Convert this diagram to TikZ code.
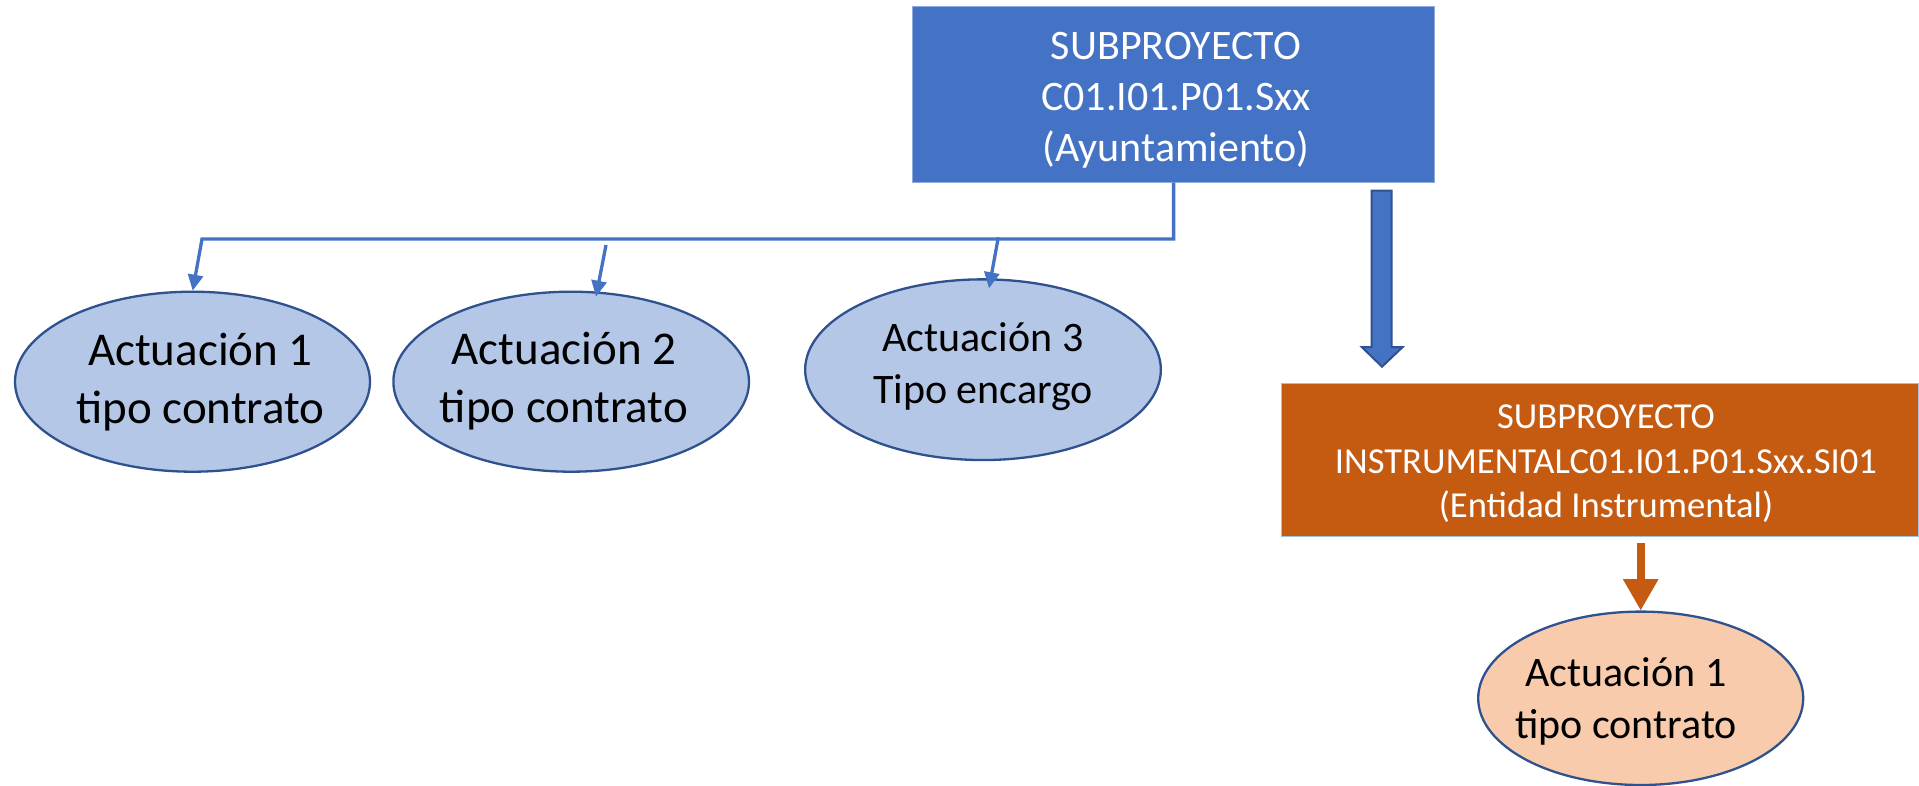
\documentclass[tikz,border=0pt]{standalone}
\usepackage{fontspec}
\setmainfont{Carlito}
\usetikzlibrary{arrows.meta,calc,shapes.geometric}
\definecolor{boxblue}{HTML}{4472C4}
\definecolor{boxedge}{HTML}{8FAADC}
\definecolor{darkblue}{HTML}{2F528F}
\definecolor{ellblue}{HTML}{B4C7E7}
\definecolor{boxorange}{HTML}{C55A11}
\definecolor{orangeedge}{HTML}{9DC3E6}
\definecolor{ellorange}{HTML}{F8CBAD}
\tikzset{
  blockbox/.style={rectangle, inner sep=0pt, outer sep=0pt, line width=1.2pt},
  actell/.style={ellipse, inner sep=0pt, outer sep=0pt, draw=darkblue, line width=2.3pt, fill=ellblue},
  txt/.style={inner sep=0pt, outer sep=0pt, align=center},
  conn/.style={draw=boxblue, line width=3.3pt, line join=miter},
  conntip/.style={-{Triangle[length=16pt,width=15pt]}},
}
\begin{document}
\begin{tikzpicture}[x=1pt,y=-1pt]
\useasboundingbox (0,0) rectangle (1919,786);
\fill[white] (0,0) rectangle (1919,786);

% top box
\node[blockbox, fill=boxblue, draw=boxedge, minimum width=521.8pt, minimum height=176pt] (top) at (1173.6,94.7) {};
\node[txt, text=white, font=\fontsize{42}{51.3}\selectfont] (toptxt) at (1176,100.3) {SUBPROYECTO\\C01.I01.P01.Sxx\\(Ayuntamiento)};

% ellipses
\node[actell, minimum width=355pt, minimum height=180pt] (e1) at (192.5,381.7) {};
\node[txt, font=\fontsize{47}{57.3}\selectfont] (e1txt) at (200.4,382) {Actuación 1\\tipo contrato};
\node[actell, minimum width=355.6pt, minimum height=180pt] (e2) at (571.2,381.7) {};
\node[txt, font=\fontsize{47}{57.3}\selectfont] (e2txt) at (564,381) {Actuación 2\\tipo contrato};
\node[actell, minimum width=355.7pt, minimum height=180.7pt] (e3) at (983,369.7) {};
\node[txt, font=\fontsize{42}{51.6}\selectfont] (e3txt) at (983,366.4) {Actuación 3\\Tipo encargo};

% orange box
\node[blockbox, fill=boxorange, draw=orangeedge, minimum width=637.3pt, minimum height=153.4pt] (ob) at (1600.3,460) {};
\node[txt, text=white, font=\fontsize{36.6}{44.7}\selectfont] (obtxt) at (1606,463.9) {SUBPROYECTO\\INSTRUMENTALC01.I01.P01.Sxx.SI01\\(Entidad Instrumental)};

% orange ellipse
\node[ellipse, inner sep=0pt, outer sep=0pt, draw=darkblue, line width=2.3pt, fill=ellorange, minimum width=325pt, minimum height=173.4pt] (oe) at (1640.7,698.3) {};
\node[txt, font=\fontsize{42}{51.6}\selectfont] (oetxt) at (1626,701.4) {Actuación 1\\tipo contrato};

% blue connectors
\coordinate (j1) at (1173.6,239);
\coordinate (j0) at (202,239);
\draw[conn, conntip] (top.south) -- (j1) -- (j0) -- ($(e1.center)+(0.2,-91)$);
\coordinate (s2) at (606,245);
\draw[conn, conntip] (s2) -- ($(e2.center)+(24.8,-85)$);
\coordinate (s3) at (998.3,237.3);
\draw[conn, conntip] (s3) -- ($(e3.center)+(6,-81.4)$);

% big block arrow between the two boxes
\draw[fill=boxblue, draw=darkblue, line width=2pt, line join=miter]
  (1371.7,190.7) -- (1391.7,190.7) -- (1391.7,347) -- (1402.7,347) -- (1382,366.7)
  -- (1361.7,347) -- (1371.7,347) -- cycle;

% orange arrow
\draw[draw=boxorange, line width=7.7pt, -{Triangle[length=31.4pt,width=33.3pt]}]
  ($(ob.south -| oe.north)+(0,6.6)$) -- ($(oe.north)+(0,-1)$);
\end{tikzpicture}
\end{document}
